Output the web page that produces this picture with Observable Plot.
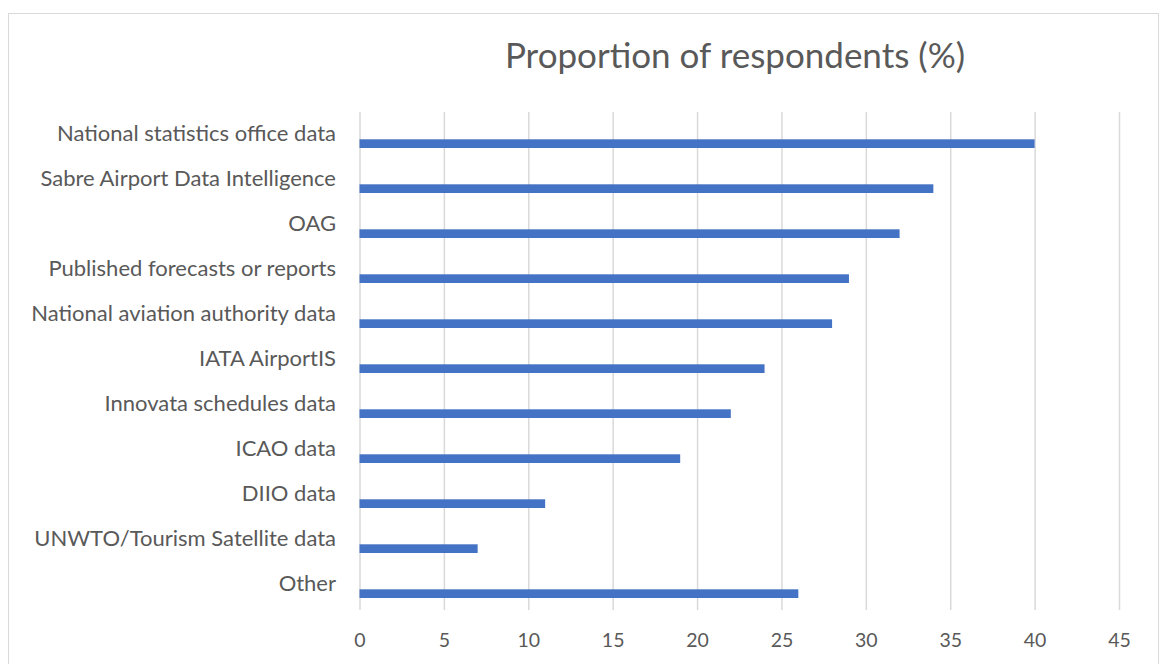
<!DOCTYPE html>
<html>
<head>
<meta charset="utf-8">
<script src="https://cdn.jsdelivr.net/npm/d3@7"></script>
<script src="https://cdn.jsdelivr.net/npm/@observablehq/plot@0.6"></script>
<style>
  html, body { margin: 0; padding: 0; background: #fff; }
  #wrap { position: relative; width: 1160px; height: 664px; overflow: hidden; font-family: Lato, "Open Sans", sans-serif; }
  #border { position: absolute; left: 8px; top: 13px; width: 1151px; height: 700px; border: 1.5px solid #d9d9d9; box-sizing: border-box; }
  #title { position: absolute; left: 310px; width: 850px; top: 33px; line-height: 42px; text-align: center; font-size: 35px; color: #595959; }
  #chart { position: absolute; left: 0; top: 0; }
</style>
</head>
<body>
<div id="wrap">
  <div id="border"></div>
  <div id="title">Proportion of respondents (%)</div>
  <div id="chart"></div>
</div>
<script>
const categories = [
  "National statistics office data",
  "Sabre Airport Data Intelligence",
  "OAG",
  "Published forecasts or reports",
  "National aviation authority data",
  "IATA AirportIS",
  "Innovata schedules data",
  "ICAO data",
  "DIIO data",
  "UNWTO/Tourism Satellite data",
  "Other"
];
const values = [40, 34, 32, 29, 28, 24, 22, 19, 11, 7, 26];
const xTicks = [0, 5, 10, 15, 20, 25, 30, 35, 40, 45];

const data = categories.map((c, i) => ({category: c, value: values[i]}));

const chart = Plot.plot({
  width: 1160,
  height: 664,
  marginTop: 112,
  marginBottom: 54,
  marginLeft: 359.5,
  marginRight: 41,
  style: { fontFamily: "Lato, 'Open Sans', sans-serif", background: "transparent", color: "#595959" },
  x: { domain: [0, 45], ticks: xTicks },
  y: { domain: categories, padding: 0, align: 0 },
  marks: [
    Plot.gridX(xTicks, { stroke: "#d9d9d9", strokeOpacity: 1, strokeWidth: 1.5 }),
    Plot.rectX(data, { x1: 0, x2: "value", y: "category", fill: "#4472C4", insetTop: 27.3, insetBottom: 9 }),
    Plot.axisX(xTicks, { tickSize: 0, tickPadding: 23, fontSize: 19.5, fill: "#595959", label: null }),
    Plot.axisY({ tickSize: 0, tickPadding: 24, fontSize: 22, fill: "#595959", label: null, dy: -1 })
  ]
});
document.getElementById("chart").appendChild(chart);
</script>
</body>
</html>
